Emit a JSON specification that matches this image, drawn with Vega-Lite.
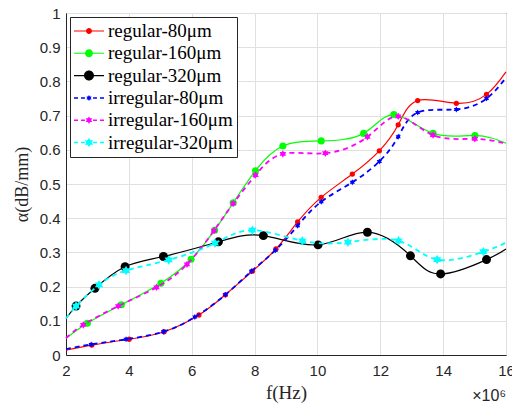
{
  "$schema": "https://vega.github.io/schema/vega-lite/v6.json",
  "width": 440,
  "height": 342,
  "autosize": {"type": "none"},
  "padding": {"left": 66, "top": 13, "right": 6, "bottom": 55},
  "background": "white",
  "config": {
    "view": {"stroke": "#262626", "strokeWidth": 1},
    "axis": {
      "domainColor": "#262626",
      "gridColor": "#e0e0e0",
      "labelFont": "Liberation Sans",
      "labelFontSize": 15,
      "labelColor": "#262626",
      "titleFont": "Liberation Serif",
      "titleFontSize": 18,
      "titleFontWeight": "normal",
      "titleColor": "#262626",
      "ticks": false
    },
    "legend": {
      "orient": "top-left",
      "offset": 4,
      "fillColor": "white",
      "strokeColor": "#262626",
      "padding": 4,
      "symbolSize": 900,
      "symbolStrokeWidth": 0,
      "symbolOpacity": 1,
      "clipHeight": 20,
      "rowPadding": 2.3,
      "labelFont": "Liberation Serif",
      "labelFontSize": 19,
      "labelColor": "black",
      "labelOffset": 4,
      "labelLimit": 300
    }
  },
  "title": {
    "text": "×10⁶",
    "orient": "bottom",
    "anchor": "end",
    "frame": "group",
    "font": "Liberation Sans",
    "fontSize": 16,
    "fontWeight": "normal",
    "color": "#262626",
    "offset": -14
  },
  "datasets": {
    "d": [
      {"s": "regular-80μm", "f": 2.0, "a": 0.014, "m": 0},
      {"s": "regular-80μm", "f": 2.82, "a": 0.029, "m": 1},
      {"s": "regular-80μm", "f": 4.01, "a": 0.046, "m": 1},
      {"s": "regular-80μm", "f": 5.12, "a": 0.068, "m": 1},
      {"s": "regular-80μm", "f": 6.23, "a": 0.117, "m": 1},
      {"s": "regular-80μm", "f": 7.07, "a": 0.176, "m": 1},
      {"s": "regular-80μm", "f": 7.93, "a": 0.245, "m": 1},
      {"s": "regular-80μm", "f": 8.68, "a": 0.31, "m": 1},
      {"s": "regular-80μm", "f": 9.37, "a": 0.389, "m": 1},
      {"s": "regular-80μm", "f": 10.12, "a": 0.461, "m": 1},
      {"s": "regular-80μm", "f": 11.11, "a": 0.529, "m": 1},
      {"s": "regular-80μm", "f": 11.97, "a": 0.597, "m": 1},
      {"s": "regular-80μm", "f": 12.57, "a": 0.673, "m": 1},
      {"s": "regular-80μm", "f": 13.19, "a": 0.744, "m": 1},
      {"s": "regular-80μm", "f": 14.42, "a": 0.736, "m": 1},
      {"s": "regular-80μm", "f": 15.38, "a": 0.762, "m": 1},
      {"s": "regular-80μm", "f": 16.0, "a": 0.828, "m": 0},
      {"s": "regular-160μm", "f": 2.0, "a": 0.049, "m": 0},
      {"s": "regular-160μm", "f": 2.68, "a": 0.093, "m": 1},
      {"s": "regular-160μm", "f": 3.76, "a": 0.147, "m": 1},
      {"s": "regular-160μm", "f": 5.02, "a": 0.21, "m": 1},
      {"s": "regular-160μm", "f": 5.98, "a": 0.28, "m": 1},
      {"s": "regular-160μm", "f": 6.73, "a": 0.365, "m": 1},
      {"s": "regular-160μm", "f": 7.32, "a": 0.445, "m": 1},
      {"s": "regular-160μm", "f": 8.03, "a": 0.539, "m": 1},
      {"s": "regular-160μm", "f": 8.9, "a": 0.611, "m": 1},
      {"s": "regular-160μm", "f": 10.12, "a": 0.626, "m": 1},
      {"s": "regular-160μm", "f": 11.47, "a": 0.648, "m": 1},
      {"s": "regular-160μm", "f": 12.43, "a": 0.703, "m": 1},
      {"s": "regular-160μm", "f": 13.68, "a": 0.648, "m": 1},
      {"s": "regular-160μm", "f": 15.01, "a": 0.642, "m": 1},
      {"s": "regular-160μm", "f": 16.0, "a": 0.619, "m": 0},
      {"s": "regular-320μm", "f": 2.0, "a": 0.107, "m": 0},
      {"s": "regular-320μm", "f": 2.32, "a": 0.143, "m": 1},
      {"s": "regular-320μm", "f": 2.92, "a": 0.195, "m": 1},
      {"s": "regular-320μm", "f": 3.88, "a": 0.258, "m": 1},
      {"s": "regular-320μm", "f": 5.1, "a": 0.288, "m": 1},
      {"s": "regular-320μm", "f": 6.85, "a": 0.331, "m": 1},
      {"s": "regular-320μm", "f": 8.28, "a": 0.349, "m": 1},
      {"s": "regular-320μm", "f": 10.02, "a": 0.322, "m": 1},
      {"s": "regular-320μm", "f": 11.59, "a": 0.359, "m": 1},
      {"s": "regular-320μm", "f": 12.96, "a": 0.29, "m": 1},
      {"s": "regular-320μm", "f": 13.92, "a": 0.237, "m": 1},
      {"s": "regular-320μm", "f": 15.38, "a": 0.279, "m": 1},
      {"s": "regular-320μm", "f": 16.0, "a": 0.31, "m": 0},
      {"s": "irregular-80μm", "f": 2.0, "a": 0.017, "m": 0},
      {"s": "irregular-80μm", "f": 2.8, "a": 0.031, "m": 1},
      {"s": "irregular-80μm", "f": 3.91, "a": 0.046, "m": 1},
      {"s": "irregular-80μm", "f": 5.1, "a": 0.068, "m": 1},
      {"s": "irregular-80μm", "f": 6.1, "a": 0.111, "m": 1},
      {"s": "irregular-80μm", "f": 7.07, "a": 0.176, "m": 1},
      {"s": "irregular-80μm", "f": 7.9, "a": 0.245, "m": 1},
      {"s": "irregular-80μm", "f": 8.66, "a": 0.306, "m": 1},
      {"s": "irregular-80μm", "f": 9.37, "a": 0.378, "m": 1},
      {"s": "irregular-80μm", "f": 10.12, "a": 0.448, "m": 1},
      {"s": "irregular-80μm", "f": 11.11, "a": 0.505, "m": 1},
      {"s": "irregular-80μm", "f": 11.97, "a": 0.566, "m": 1},
      {"s": "irregular-80μm", "f": 12.57, "a": 0.638, "m": 1},
      {"s": "irregular-80μm", "f": 13.19, "a": 0.709, "m": 1},
      {"s": "irregular-80μm", "f": 14.42, "a": 0.718, "m": 1},
      {"s": "irregular-80μm", "f": 15.38, "a": 0.75, "m": 1},
      {"s": "irregular-80μm", "f": 16.0, "a": 0.811, "m": 0},
      {"s": "irregular-160μm", "f": 2.0, "a": 0.049, "m": 0},
      {"s": "irregular-160μm", "f": 2.55, "a": 0.088, "m": 1},
      {"s": "irregular-160μm", "f": 3.66, "a": 0.143, "m": 1},
      {"s": "irregular-160μm", "f": 4.88, "a": 0.198, "m": 1},
      {"s": "irregular-160μm", "f": 5.85, "a": 0.265, "m": 1},
      {"s": "irregular-160μm", "f": 6.71, "a": 0.364, "m": 1},
      {"s": "irregular-160μm", "f": 7.32, "a": 0.443, "m": 1},
      {"s": "irregular-160μm", "f": 8.03, "a": 0.526, "m": 1},
      {"s": "irregular-160μm", "f": 8.9, "a": 0.588, "m": 1},
      {"s": "irregular-160μm", "f": 10.25, "a": 0.59, "m": 1},
      {"s": "irregular-160μm", "f": 11.59, "a": 0.638, "m": 1},
      {"s": "irregular-160μm", "f": 12.57, "a": 0.698, "m": 1},
      {"s": "irregular-160μm", "f": 13.68, "a": 0.643, "m": 1},
      {"s": "irregular-160μm", "f": 15.01, "a": 0.632, "m": 1},
      {"s": "irregular-160μm", "f": 16.0, "a": 0.618, "m": 0},
      {"s": "irregular-320μm", "f": 2.0, "a": 0.107, "m": 0},
      {"s": "irregular-320μm", "f": 2.32, "a": 0.143, "m": 1},
      {"s": "irregular-320μm", "f": 3.05, "a": 0.205, "m": 1},
      {"s": "irregular-320μm", "f": 3.91, "a": 0.247, "m": 1},
      {"s": "irregular-320μm", "f": 5.27, "a": 0.278, "m": 1},
      {"s": "irregular-320μm", "f": 6.74, "a": 0.327, "m": 1},
      {"s": "irregular-320μm", "f": 7.93, "a": 0.365, "m": 1},
      {"s": "irregular-320μm", "f": 9.52, "a": 0.334, "m": 1},
      {"s": "irregular-320μm", "f": 10.97, "a": 0.33, "m": 1},
      {"s": "irregular-320μm", "f": 12.58, "a": 0.334, "m": 1},
      {"s": "irregular-320μm", "f": 13.81, "a": 0.279, "m": 1},
      {"s": "irregular-320μm", "f": 15.28, "a": 0.302, "m": 1},
      {"s": "irregular-320μm", "f": 16.0, "a": 0.328, "m": 0}
    ]
  },
  "data": {"name": "d"},
  "encoding": {
    "x": {
      "field": "f",
      "type": "quantitative",
      "scale": {"domain": [2, 16], "nice": false},
      "axis": {"values": [2, 4, 6, 8, 10, 12, 14, 16], "title": "f(Hz)", "titleFontSize": 19, "labelPadding": 8, "titlePadding": 5, "labelFlush": false}
    },
    "y": {
      "field": "a",
      "type": "quantitative",
      "scale": {"domain": [0, 1], "nice": false},
      "axis": {"values": [0, 0.1, 0.2, 0.3, 0.4, 0.5, 0.6, 0.7, 0.8, 0.9, 1], "format": "~g", "title": "α(dB/mm)", "titlePadding": 8, "labelPadding": 6, "labelFlush": false}
    }
  },
  "layer": [
    {
      "transform": [{"filter": "datum.s == 'regular-80μm'"}],
      "mark": {"type": "line", "interpolate": "natural", "strokeWidth": 1.2, "color": "#ff0000"}
    },
    {
      "transform": [{"filter": "datum.s == 'regular-80μm' && datum.m == 1"}],
      "mark": {"type": "point", "filled": true, "shape": "circle", "size": 28, "opacity": 1, "color": "#ff0000"}
    },
    {
      "transform": [{"filter": "datum.s == 'regular-160μm'"}],
      "mark": {"type": "line", "interpolate": "natural", "strokeWidth": 1.2, "color": "#00ff00"}
    },
    {
      "transform": [{"filter": "datum.s == 'regular-160μm' && datum.m == 1"}],
      "mark": {"type": "point", "filled": true, "shape": "circle", "size": 50, "opacity": 1, "color": "#00ff00"}
    },
    {
      "transform": [{"filter": "datum.s == 'regular-320μm'"}],
      "mark": {"type": "line", "interpolate": "natural", "strokeWidth": 1.2, "color": "#000000"}
    },
    {
      "transform": [{"filter": "datum.s == 'regular-320μm' && datum.m == 1"}],
      "mark": {"type": "point", "filled": true, "shape": "circle", "size": 80, "opacity": 1, "color": "#000000"}
    },
    {
      "transform": [{"filter": "datum.s == 'irregular-80μm'"}],
      "mark": {"type": "line", "interpolate": "natural", "strokeWidth": 1.8, "strokeDash": [5, 4], "color": "#0000ff"}
    },
    {
      "transform": [{"filter": "datum.s == 'irregular-80μm' && datum.m == 1"}],
      "mark": {"type": "point", "filled": true, "shape": "M0,-1L0.289,-0.5L0.866,-0.5L0.577,0L0.866,0.5L0.289,0.5L0,1L-0.289,0.5L-0.866,0.5L-0.577,0L-0.866,-0.5L-0.289,-0.5Z", "size": 36, "opacity": 1, "color": "#0000ff"}
    },
    {
      "transform": [{"filter": "datum.s == 'irregular-160μm'"}],
      "mark": {"type": "line", "interpolate": "natural", "strokeWidth": 1.8, "strokeDash": [5, 4], "color": "#ff00ff"}
    },
    {
      "transform": [{"filter": "datum.s == 'irregular-160μm' && datum.m == 1"}],
      "mark": {"type": "point", "filled": true, "shape": "M0,-1L0.289,-0.5L0.866,-0.5L0.577,0L0.866,0.5L0.289,0.5L0,1L-0.289,0.5L-0.866,0.5L-0.577,0L-0.866,-0.5L-0.289,-0.5Z", "size": 56, "opacity": 1, "color": "#ff00ff"}
    },
    {
      "transform": [{"filter": "datum.s == 'irregular-320μm'"}],
      "mark": {"type": "line", "interpolate": "natural", "strokeWidth": 1.8, "strokeDash": [5, 4], "color": "#00ffff"}
    },
    {
      "transform": [{"filter": "datum.s == 'irregular-320μm' && datum.m == 1"}],
      "mark": {"type": "point", "filled": true, "shape": "M0,-1L0.289,-0.5L0.866,-0.5L0.577,0L0.866,0.5L0.289,0.5L0,1L-0.289,0.5L-0.866,0.5L-0.577,0L-0.866,-0.5L-0.289,-0.5Z", "size": 90, "opacity": 1, "color": "#00ffff"}
    },
    {
      "transform": [{"filter": "false"}],
      "mark": {"type": "point", "filled": true, "opacity": 1},
      "encoding": {
        "color": {
          "field": "s",
          "type": "nominal",
          "title": null,
          "scale": {
            "domain": ["regular-80μm", "regular-160μm", "regular-320μm", "irregular-80μm", "irregular-160μm", "irregular-320μm"],
            "range": ["#ff0000", "#00ff00", "#000000", "#0000ff", "#ff00ff", "#00ffff"]
          },
          "legend": {"title": null}
        },
        "shape": {
          "field": "s",
          "type": "nominal",
          "title": null,
          "scale": {
            "domain": ["regular-80μm", "regular-160μm", "regular-320μm", "irregular-80μm", "irregular-160μm", "irregular-320μm"],
            "range": [
              "M-1,-0.035H1V0.035H-1ZM0.2,0A0.2,0.2 0 1,1 -0.2,0A0.2,0.2 0 1,1 0.2,0Z",
              "M-1,-0.035H1V0.035H-1ZM0.267,0A0.267,0.267 0 1,1 -0.267,0A0.267,0.267 0 1,1 0.267,0Z",
              "M-1,-0.035H1V0.035H-1ZM0.333,0A0.333,0.333 0 1,1 -0.333,0A0.333,0.333 0 1,1 0.333,0Z",
              "M-1,-0.05H-0.73V0.05H-1ZM-0.53,-0.05H-0.27V0.05H-0.53ZM0.27,-0.05H0.53V0.05H0.27ZM0.73,-0.05H1V0.05H0.73ZM0,-0.2L0.058,-0.1L0.173,-0.1L0.115,0L0.173,0.1L0.058,0.1L0,0.2L-0.058,0.1L-0.173,0.1L-0.115,0L-0.173,-0.1L-0.058,-0.1Z",
              "M-1,-0.05H-0.73V0.05H-1ZM-0.53,-0.05H-0.27V0.05H-0.53ZM0.27,-0.05H0.53V0.05H0.27ZM0.73,-0.05H1V0.05H0.73ZM0,-0.25L0.072,-0.125L0.217,-0.125L0.144,0L0.217,0.125L0.072,0.125L0,0.25L-0.072,0.125L-0.217,0.125L-0.144,0L-0.217,-0.125L-0.072,-0.125Z",
              "M-1,-0.05H-0.73V0.05H-1ZM-0.53,-0.05H-0.27V0.05H-0.53ZM0.27,-0.05H0.53V0.05H0.27ZM0.73,-0.05H1V0.05H0.73ZM0,-0.317L0.092,-0.158L0.274,-0.158L0.183,0L0.274,0.158L0.092,0.158L0,0.317L-0.092,0.158L-0.274,0.158L-0.183,0L-0.274,-0.158L-0.092,-0.158Z"
            ]
          },
          "legend": {"title": null}
        }
      }
    }
  ]
}
